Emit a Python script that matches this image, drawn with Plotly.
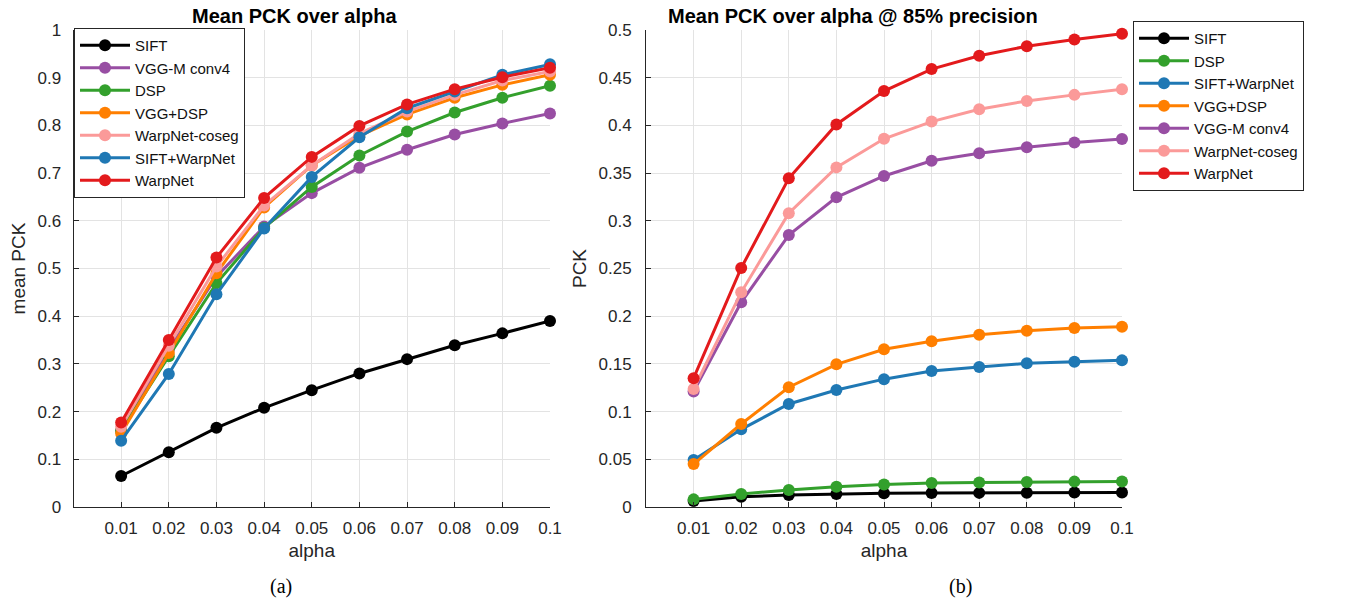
import plotly.graph_objects as go

alpha = [0.01, 0.02, 0.03, 0.04, 0.05, 0.06, 0.07, 0.08, 0.09, 0.10]
alpha_labels = ["0.01", "0.02", "0.03", "0.04", "0.05", "0.06", "0.07", "0.08", "0.09", "0.1"]

# (a) mean PCK over alpha
a_sift = [0.065, 0.115, 0.166, 0.208, 0.245, 0.280, 0.310, 0.339, 0.364, 0.390]
a_vggm = [0.160, 0.330, 0.483, 0.588, 0.658, 0.711, 0.749, 0.781, 0.804, 0.825]
a_dsp = [0.160, 0.316, 0.469, 0.585, 0.671, 0.737, 0.787, 0.827, 0.858, 0.883]
a_vggdsp = [0.154, 0.323, 0.490, 0.628, 0.716, 0.778, 0.823, 0.858, 0.885, 0.906]
a_coseg = [0.168, 0.338, 0.504, 0.632, 0.716, 0.783, 0.829, 0.864, 0.894, 0.913]
a_siftwarp = [0.139, 0.279, 0.446, 0.584, 0.692, 0.775, 0.836, 0.871, 0.906, 0.928]
a_warpnet = [0.177, 0.350, 0.523, 0.648, 0.734, 0.799, 0.844, 0.876, 0.901, 0.921]

# (b) PCK over alpha @ 85% precision
b_sift = [0.0063, 0.0108, 0.0126, 0.0136, 0.0143, 0.0147, 0.0148, 0.0150, 0.0151, 0.0152]
b_dsp = [0.0080, 0.0136, 0.0178, 0.0213, 0.0237, 0.0252, 0.0258, 0.0263, 0.0266, 0.0267]
b_siftwarp = [0.0493, 0.0814, 0.1080, 0.1226, 0.1340, 0.1426, 0.1467, 0.1506, 0.1523, 0.1537]
b_vggdsp = [0.0450, 0.0870, 0.1255, 0.1496, 0.1653, 0.1737, 0.1806, 0.1848, 0.1876, 0.1890]
b_vggm = [0.1210, 0.2146, 0.2850, 0.3246, 0.3470, 0.3630, 0.3707, 0.3770, 0.3820, 0.3857]
b_coseg = [0.1237, 0.2250, 0.3080, 0.3560, 0.3860, 0.4040, 0.4170, 0.4256, 0.4320, 0.4380]
b_warpnet = [0.1350, 0.2505, 0.3445, 0.4010, 0.4360, 0.4590, 0.4730, 0.4830, 0.4900, 0.4960]

a_yticks = [0, 0.1, 0.2, 0.3, 0.4, 0.5, 0.6, 0.7, 0.8, 0.9, 1.0]
a_ylabels = ["0", "0.1", "0.2", "0.3", "0.4", "0.5", "0.6", "0.7", "0.8", "0.9", "1"]
b_yticks = [0, 0.05, 0.1, 0.15, 0.2, 0.25, 0.3, 0.35, 0.4, 0.45, 0.5]
b_ylabels = ["0", "0.05", "0.1", "0.15", "0.2", "0.25", "0.3", "0.35", "0.4", "0.45", "0.5"]

C = {
    "SIFT": "#000000",
    "VGG-M conv4": "#984ea3",
    "DSP": "#33a02c",
    "VGG+DSP": "#ff7f00",
    "WarpNet-coseg": "#fb9a99",
    "SIFT+WarpNet": "#1f78b4",
    "WarpNet": "#e31a1c",
}

left_series = [
    ("SIFT", a_sift), ("VGG-M conv4", a_vggm), ("DSP", a_dsp), ("VGG+DSP", a_vggdsp),
    ("WarpNet-coseg", a_coseg), ("SIFT+WarpNet", a_siftwarp), ("WarpNet", a_warpnet),
]
right_series = [
    ("SIFT", b_sift), ("DSP", b_dsp), ("SIFT+WarpNet", b_siftwarp), ("VGG+DSP", b_vggdsp),
    ("VGG-M conv4", b_vggm), ("WarpNet-coseg", b_coseg), ("WarpNet", b_warpnet),
]

FONT = "Liberation Sans, Arial, sans-serif"
SERIF = "Liberation Serif, Times New Roman, serif"
fig = go.Figure()

for name, ys in left_series:
    fig.add_trace(go.Scatter(
        x=alpha, y=ys, name=name, mode="lines+markers",
        line=dict(color=C[name], width=3), marker=dict(color=C[name], size=12),
        cliponaxis=False, xaxis="x", yaxis="y", legend="legend",
    ))
for name, ys in right_series:
    fig.add_trace(go.Scatter(
        x=alpha, y=ys, name=name, mode="lines+markers",
        line=dict(color=C[name], width=3), marker=dict(color=C[name], size=12),
        cliponaxis=False, xaxis="x2", yaxis="y2", legend="legend2",
    ))

axis_common = dict(
    showline=True, linecolor="#262626", linewidth=1, mirror=False,
    ticks="inside", ticklen=5, tickcolor="#262626",
    showgrid=True, gridcolor="#e3e3e3", gridwidth=1, zeroline=False,
    tickfont=dict(family=FONT, size=17, color="#262626"),
    title_font=dict(family=FONT, size=19, color="#262626"),
    automargin=False,
)

W, H = 1360, 600
def px(x): return x / W
def py(y): return 1 - y / H

fig.update_layout(
    width=W, height=H,
    margin=dict(l=0, r=0, t=0, b=0, autoexpand=False),
    paper_bgcolor="white", plot_bgcolor="white",
    font=dict(family=FONT, color="#262626"),
    xaxis=dict(domain=[px(73.5), px(550)], range=[0, 0.1], tickvals=alpha, ticktext=alpha_labels,
               ticklabelstandoff=6,
               title=dict(text="alpha", standoff=6), anchor="y", **axis_common),
    yaxis=dict(domain=[py(507), py(30)], range=[0, 1], tickvals=a_yticks, ticktext=a_ylabels,
               ticklabelstandoff=8,
               title=dict(text="mean PCK", standoff=6), anchor="x", **axis_common),
    xaxis2=dict(domain=[px(646), px(1122)], range=[0, 0.1], tickvals=alpha, ticktext=alpha_labels,
                ticklabelstandoff=6,
                title=dict(text="alpha", standoff=6), anchor="y2", **axis_common),
    yaxis2=dict(domain=[py(507), py(30)], range=[0, 0.5], tickvals=b_yticks, ticktext=b_ylabels,
                ticklabelstandoff=10,
                title=dict(text="PCK", standoff=6), anchor="x2", **axis_common),
    legend=dict(x=px(74), y=py(28), xanchor="left", yanchor="top",
                bgcolor="white", bordercolor="#262626", borderwidth=1,
                font=dict(family=FONT, size=15, color="#111111"), tracegroupgap=0,
                itemwidth=50, traceorder="normal"),
    legend2=dict(x=px(1133), y=py(21), xanchor="left", yanchor="top",
                 bgcolor="white", bordercolor="#262626", borderwidth=1,
                 font=dict(family=FONT, size=15, color="#111111"), tracegroupgap=0,
                 itemwidth=50, traceorder="normal"),
    showlegend=True,
)

fig.add_annotation(text="<b>Mean PCK over alpha</b>", x=px(294.5), y=py(16), xref="paper", yref="paper",
                   xanchor="center", yanchor="middle",
                   showarrow=False, font=dict(family=FONT, size=20, color="#000000"))
fig.add_annotation(text="<b>Mean PCK over alpha @ 85% precision</b>", x=px(852.5), y=py(16), xref="paper", yref="paper",
                   xanchor="center", yanchor="middle",
                   showarrow=False, font=dict(family=FONT, size=20, color="#000000"))
fig.add_annotation(text="(a)", x=px(281), y=py(586), xref="paper", yref="paper",
                   xanchor="center", yanchor="middle",
                   showarrow=False, font=dict(family=SERIF, size=20, color="#000000"))
fig.add_annotation(text="(b)", x=px(960), y=py(586), xref="paper", yref="paper",
                   xanchor="center", yanchor="middle",
                   showarrow=False, font=dict(family=SERIF, size=20, color="#000000"))

# remove the browser's default 8px body margin so the figure sits at the page origin
fig.write_html("out.html", config={"displayModeBar": False},
               post_script="document.body.style.margin='0px';")
